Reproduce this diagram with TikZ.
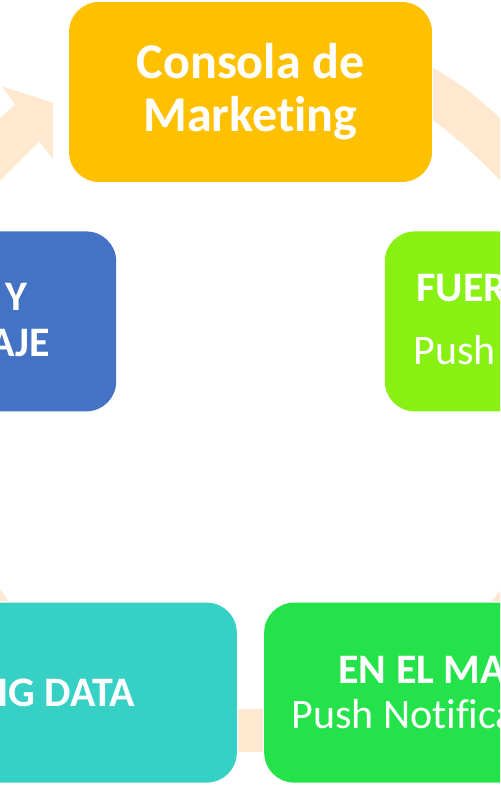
\documentclass[tikz,border=0pt]{standalone}
\usepackage{fontspec}
\setmainfont{Carlito}[Ligatures=NoCommon]
\usetikzlibrary{calc}
\definecolor{consolaGold}{HTML}{FFC000}
\definecolor{mensajeBlue}{HTML}{4472C4}
\definecolor{fueraLime}{HTML}{88F012}
\definecolor{mapaGreen}{HTML}{24E24A}
\definecolor{bigdataTeal}{HTML}{36D1C4}
\definecolor{cyclePeach}{HTML}{FEE8D0}
\def\boxW{7.26cm}
\def\boxH{3.6cm}
\def\hubR{332}
\newcommand{\CycleStyles}{
  \tikzset{
    stagebox/.style={
      rectangle,
      rounded corners=0.6cm,
      draw=none,
      minimum width=\boxW,
      minimum height=\boxH,
      inner sep=0pt,
      align=center,
      text=white
    },
    titletext/.style={font=\bfseries\fontsize{28.5}{30.2}\selectfont},
    headtext/.style={inner sep=0pt, text=white, font=\bfseries\fontsize{23.9}{26}\selectfont},
    subtext/.style={inner sep=0pt, text=white, font=\fontsize{23.9}{26}\selectfont},
    cyclearrow/.style={fill=cyclePeach, draw=none}
  }
}

\begin{document}
\begin{tikzpicture}[x=0.02cm, y=-0.02cm]
  \CycleStyles
  \useasboundingbox (0,0) rectangle (500,786);
  \clip (0,0) rectangle (500,786);

  % arrows behind the stages
  \fill[cyclearrow] (0,118) -- (15,104.5) -- (2,86.5) -- (53,102.5) -- (53,159) -- (39.5,141.5) -- (0,181) -- cycle;
  \fill[cyclearrow] (433,68) .. controls (462,84) and (486,104) .. (508,126)
    -- (508,189) .. controls (486,165) and (462,142) .. (433,120) -- cycle;
  \fill[cyclearrow] (0,589) -- (8.5,601) -- (0,601) -- cycle;
  \fill[cyclearrow] (491.5,601) -- (500,590.5) -- (500,601) -- cycle;
  \fill[cyclearrow] (238,709) rectangle (263,752);

  % stages on the cycle
  \coordinate (hub) at (250.5,424);
  \node[stagebox, fill=consolaGold, titletext] (consola) at ($(hub)+(-90:\hubR)$) {Consola de\\Marketing};
  \node[stagebox, fill=fueraLime] (fuera) at ($(hub)+(-18:\hubR)$) {};
  \node[stagebox, fill=mapaGreen] (mapa) at ($(hub)+(54:\hubR)$) {};
  \node[stagebox, fill=bigdataTeal] (bigdata) at ($(hub)+(126:\hubR)$) {};
  \node[stagebox, fill=mensajeBlue] (mensaje) at ($(hub)+(198:\hubR)$) {};

  % texts that stay inside the frame
  \node[headtext, anchor=base east] (mensajeA) at (27.5,310.7) {Y};
  \node[headtext, anchor=base east] (mensajeB) at (50.5,356.7) {AJE};
  \node[headtext, anchor=base west] (fueraA) at (416,301.7) {FUER};
  \node[subtext, anchor=base west] (fueraB) at (413,365) {Push};
  \node[headtext, anchor=base west] (mapaA) at (338,683) {EN EL MA};
  \node[subtext, anchor=base west] (mapaB) at (291,728) {Push Notifica};
  \node[headtext, anchor=base east] (bigdataA) at (135.5,706.7) {IG DATA};
\end{tikzpicture}
\end{document}
